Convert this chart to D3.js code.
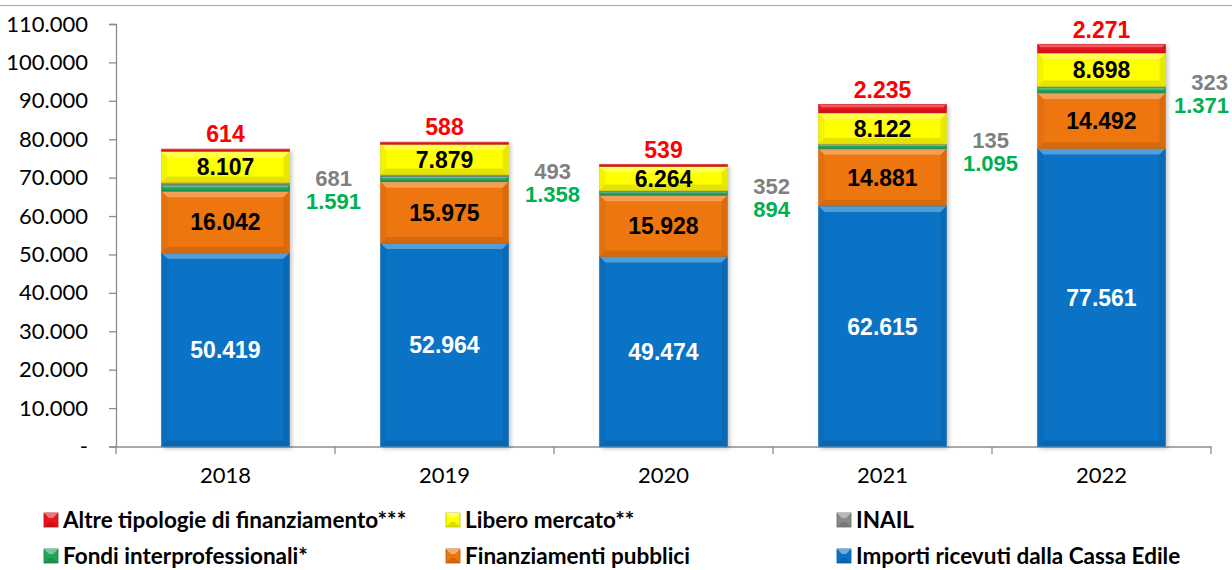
<!DOCTYPE html>
<html><head><meta charset="utf-8">
<script src="https://cdn.jsdelivr.net/npm/d3@7"></script>
<style>
html,body{margin:0;padding:0;background:#fff;}
svg{display:block;}
</style>
</head><body>
<svg id="chart" width="1232" height="570"></svg>
<script>
const years = ["2018","2019","2020","2021","2022"];
const cassaEdile = [50419,52964,49474,62615,77561];
const finPubblici = [16042,15975,15928,14881,14492];
const fondiInterprof = [1591,1358,894,1095,1371];
const inail = [681,493,352,135,323];
const liberoMercato = [8107,7879,6264,8122,8698];
const altreTipologie = [614,588,539,2235,2271];
const yTickValues = [0,10000,20000,30000,40000,50000,60000,70000,80000,90000,100000,110000];

const seriesNames = ["Importi ricevuti dalla Cassa Edile","Finanziamenti pubblici","Fondi interprofessionali*","INAIL","Libero mercato**","Altre tipologie di finanziamento***"];
const seriesValues = [cassaEdile, finPubblici, fondiInterprof, inail, liberoMercato, altreTipologie];
const seriesKeys = ["cassa","pubb","fondi","inail","libero","altre"];
const colors = {cassa:"#0B73C5", pubb:"#EE760F", fondi:"#22A55A", inail:"#8A8A8A", libero:"#FFFF00", altre:"#E8151B"};
const labelColors = {altre:"#FF0000", inail:"#808080", fondi:"#00B050"};

const fmt = d3.formatLocale({decimal:",", thousands:".", grouping:[3], currency:["€",""]}).format(",d");

const rows = years.map((y,i)=>{const o={year:y}; seriesKeys.forEach((k,j)=>o[k]=seriesValues[j][i]); return o;});
const stacked = d3.stack().keys(seriesKeys)(rows);

const svg = d3.select("#chart");
const W = 1232;

const x = d3.scaleBand().domain(years).range([116,1211]).paddingInner(0.415).paddingOuter(0.2075);
const y = d3.scaleLinear().domain([0,110000]).range([446.5,24]);

svg.append("line").attr("x1",0).attr("x2",W).attr("y1",5.5).attr("y2",5.5).attr("stroke","#a6a6a6").attr("stroke-width",1.2);

const defs = svg.append("defs");
const f = defs.append("filter").attr("id","sh").attr("x","-10%").attr("y","-10%").attr("width","130%").attr("height","130%");
f.append("feDropShadow").attr("dx",2).attr("dy",2).attr("stdDeviation",2).attr("flood-color","#000").attr("flood-opacity",0.25);

const yAxis = d3.axisLeft(y).tickValues(yTickValues).tickSize(7).tickPadding(21)
  .tickFormat(d=> d===0 ? "-" : fmt(d));
const gy = svg.append("g").attr("transform","translate(116,0)").call(yAxis);
gy.selectAll("path,line").attr("stroke","#8c8c8c").attr("stroke-width",1.3);
gy.selectAll("text").attr("font-family","Lato, 'Open Sans', sans-serif").attr("font-size",22).attr("fill","#000");

const xAxis = d3.axisBottom(x).tickSize(0).tickPadding(21);
const gx = svg.append("g").attr("transform","translate(0,446.5)").call(xAxis);
gx.select("path").attr("stroke","#8c8c8c").attr("stroke-width",1.3);
gx.selectAll("text").attr("font-family","Lato, 'Open Sans', sans-serif").attr("font-size",22).attr("fill","#000");
const step = x.step();
const bounds = d3.range(years.length+1).map(i=>x.range()[0]+i*step);
svg.append("g").selectAll("line").data(bounds).join("line")
  .attr("x1",d=>d).attr("x2",d=>d).attr("y1",446.5).attr("y2",454)
  .attr("stroke","#8c8c8c").attr("stroke-width",1.3);

const bw = x.bandwidth();
const gBars = svg.append("g");
gBars.selectAll("rect.shadow").data(rows).join("rect").attr("class","shadow")
  .attr("x",d=>x(d.year)).attr("width",bw)
  .attr("y",(d,i)=>y(stacked[stacked.length-1][i][1]))
  .attr("height",(d,i)=>y(0)-y(stacked[stacked.length-1][i][1]))
  .attr("fill","#fff").attr("filter","url(#sh)");

stacked.forEach(layer=>{
  const key = layer.key;
  const base = d3.color(colors[key]);
  const light = d3.interpolateRgb(base, "#ffffff")(0.35);
  const dark = base.darker(0.6);
  const g = gBars.append("g");
  layer.forEach((seg,i)=>{
    const x0 = x(years[i]), x1 = x0+bw;
    const yTop = y(seg[1]), yBot = y(seg[0]);
    const h = yBot - yTop;
    g.append("rect").attr("x",x0).attr("y",yTop).attr("width",bw).attr("height",h).attr("fill",colors[key]);
    const b = Math.min(6, h/3);
    g.append("polygon").attr("points",[[x0,yTop],[x1,yTop],[x1-b,yTop+b],[x0+b,yTop+b]].join(" "))
      .attr("fill",light).attr("opacity",0.85);
    g.append("polygon").attr("points",[[x0,yBot],[x1,yBot],[x1-b,yBot-b],[x0+b,yBot-b]].join(" "))
      .attr("fill",dark).attr("opacity",0.55);
    g.append("polygon").attr("points",[[x0,yTop],[x0+b,yTop+b],[x0+b,yBot-b],[x0,yBot]].join(" "))
      .attr("fill",dark).attr("opacity",0.25);
    g.append("polygon").attr("points",[[x1,yTop],[x1-b,yTop+b],[x1-b,yBot-b],[x1,yBot]].join(" "))
      .attr("fill",dark).attr("opacity",0.45);
    g.append("rect").attr("x",x0).attr("y",yTop).attr("width",bw).attr("height",h)
      .attr("fill","none").attr("stroke",dark).attr("stroke-opacity",0.5).attr("stroke-width",0.8);
  });
});

const gL = svg.append("g").attr("font-family","'Liberation Sans', Arial, sans-serif").attr("font-weight","bold");
const inside = {cassa:"#ffffff", pubb:"#000000", libero:"#000000"};
stacked.forEach(layer=>{
  const key = layer.key;
  layer.forEach((seg,i)=>{
    const v = seg.data[key];
    const cx = x(years[i]) + bw/2;
    const right = x(years[i]) + bw;
    let tx, ty, fill, side = false;
    if (inside[key]) { tx = cx; ty = (y(seg[0])+y(seg[1]))/2; fill = inside[key]; }
    else if (key==="altre") { tx = cx; ty = y(seg[1]) - 15; fill = labelColors.altre; }
    else if (key==="inail") { tx = right + 44; ty = y(seg[1]) - 4; fill = labelColors.inail; side = true; }
    else if (key==="fondi") { tx = right + 44; ty = y(stacked[3][i][1]) + 19; fill = labelColors.fondi; side = true; }
    const t = gL.append("text").attr("x",tx).attr("y",ty).attr("text-anchor","middle").attr("dy","0.36em")
      .attr("font-size", side ? 22 : 23)
      .attr("fill",fill).text(fmt(v));
    if (side) {
      const wdt = t.node().getComputedTextLength();
      if (tx + wdt/2 > W - 3) t.attr("x", W - 3 - wdt/2);
    }
  });
});

const legendItems = [
  {key:"altre", col:0, row:0},{key:"libero", col:1, row:0},{key:"inail", col:2, row:0},
  {key:"fondi", col:0, row:1},{key:"pubb", col:1, row:1},{key:"cassa", col:2, row:1}
];
const colX = [44,446,837], rowY = [520,556];
const gLeg = svg.append("g");
legendItems.forEach(it=>{
  const idx = seriesKeys.indexOf(it.key);
  const mx = colX[it.col], my = rowY[it.row];
  const s = 14;
  const base = d3.color(colors[it.key]);
  gLeg.append("rect").attr("x",mx).attr("y",my-s/2).attr("width",s).attr("height",s).attr("fill",colors[it.key])
    .attr("stroke",base.darker(0.8)).attr("stroke-width",0.8);
  gLeg.append("polygon").attr("points",[[mx,my-s/2],[mx+s,my-s/2],[mx+s-5,my-s/2+5],[mx+5,my-s/2+5]].join(" "))
    .attr("fill",d3.interpolateRgb(base,"#fff")(0.4));
  gLeg.append("polygon").attr("points",[[mx,my+s/2],[mx+s,my+s/2],[mx+s-5,my+s/2-5],[mx+5,my+s/2-5]].join(" "))
    .attr("fill",base.darker(0.7)).attr("opacity",0.6);
  gLeg.append("text").attr("x",mx+s+5).attr("y",my).attr("dy","0.36em")
    .attr("font-family","Lato, 'Open Sans', sans-serif").attr("font-weight","bold").attr("font-size",22.5)
    .attr("fill","#000").text(seriesNames[idx]);
});
</script>
</body></html>
